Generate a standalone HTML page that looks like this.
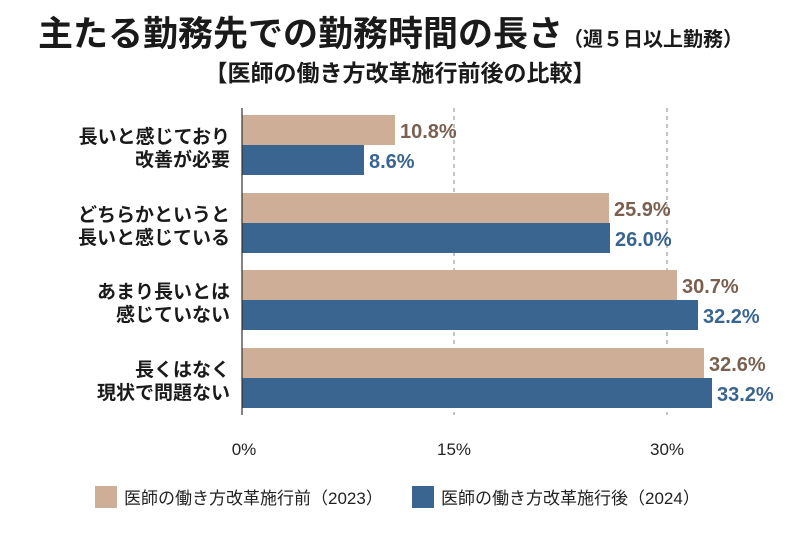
<!DOCTYPE html>
<html><head><meta charset="utf-8"><style>
body{margin:0;background:#fff;width:800px;height:536px;overflow:hidden;font-family:"Liberation Sans","Noto Sans CJK JP",sans-serif;}
.a{position:absolute;white-space:nowrap}
</style></head><body>
<div class="a" style="left:38px;top:6px;font-size:35px;font-weight:bold;color:#1a1a1a;letter-spacing:0px">主たる勤務先での勤務時間の長さ<span style="font-size:20px">（週５日以上勤務）</span></div>
<div class="a" style="left:0;width:800px;text-align:center;top:54px;font-size:23px;font-weight:bold;color:#1a1a1a">【医師の働き方改革施行前後の比較】</div>
<svg class="a" style="left:0;top:0" width="800" height="536">
<g stroke="#888" stroke-dasharray="4,4" stroke-width="1"><line x1="454" y1="108" x2="454" y2="415"/><line x1="667" y1="108" x2="667" y2="415"/></g>
<g fill="#cfae98"><rect x="242" y="115" width="153" height="30"/><rect x="242" y="193" width="367" height="30"/><rect x="242" y="270" width="435" height="30"/><rect x="242" y="348" width="462" height="30"/></g>
<g fill="#3a6590"><rect x="242" y="145" width="122" height="30"/><rect x="242" y="223" width="368" height="30"/><rect x="242" y="300" width="456" height="30"/><rect x="242" y="378" width="470" height="30"/></g>
<line x1="242" y1="108" x2="242" y2="415" stroke="#333" stroke-width="1.2"/>
<g font-family="Liberation Sans,sans-serif" font-size="20" font-weight="bold">
<g fill="#7a6050"><text x="400" y="138">10.8%</text><text x="614" y="216">25.9%</text><text x="682" y="293">30.7%</text><text x="709" y="371">32.6%</text></g>
<g fill="#3a6590"><text x="369" y="168">8.6%</text><text x="615" y="246">26.0%</text><text x="703" y="323">32.2%</text><text x="717" y="401">33.2%</text></g>
</g>
<g font-family="Liberation Sans,Noto Sans CJK JP,sans-serif" font-size="19" font-weight="bold" fill="#1a1a1a" text-anchor="end">
<text x="230" y="143">長いと感じており</text><text x="230" y="166">改善が必要</text>
<text x="230" y="221">どちらかというと</text><text x="230" y="244">長いと感じている</text>
<text x="230" y="298">あまり長いとは</text><text x="230" y="321">感じていない</text>
<text x="230" y="376">長くはなく</text><text x="230" y="399">現状で問題ない</text>
</g>
<g font-family="Liberation Sans,sans-serif" font-size="17" fill="#222" text-anchor="middle">
<text x="244" y="455">0%</text><text x="454" y="455">15%</text><text x="667" y="455">30%</text></g>
<rect x="95" y="486" width="22" height="22" fill="#cfae98"/>
<rect x="412" y="486" width="22" height="22" fill="#3a6590"/>
<g font-family="Liberation Sans,Noto Sans CJK JP,sans-serif" font-size="17" fill="#222">
<text x="124" y="504">医師の働き方改革施行前（2023）</text>
<text x="441" y="504">医師の働き方改革施行後（2024）</text></g>
</svg>
</body></html>
